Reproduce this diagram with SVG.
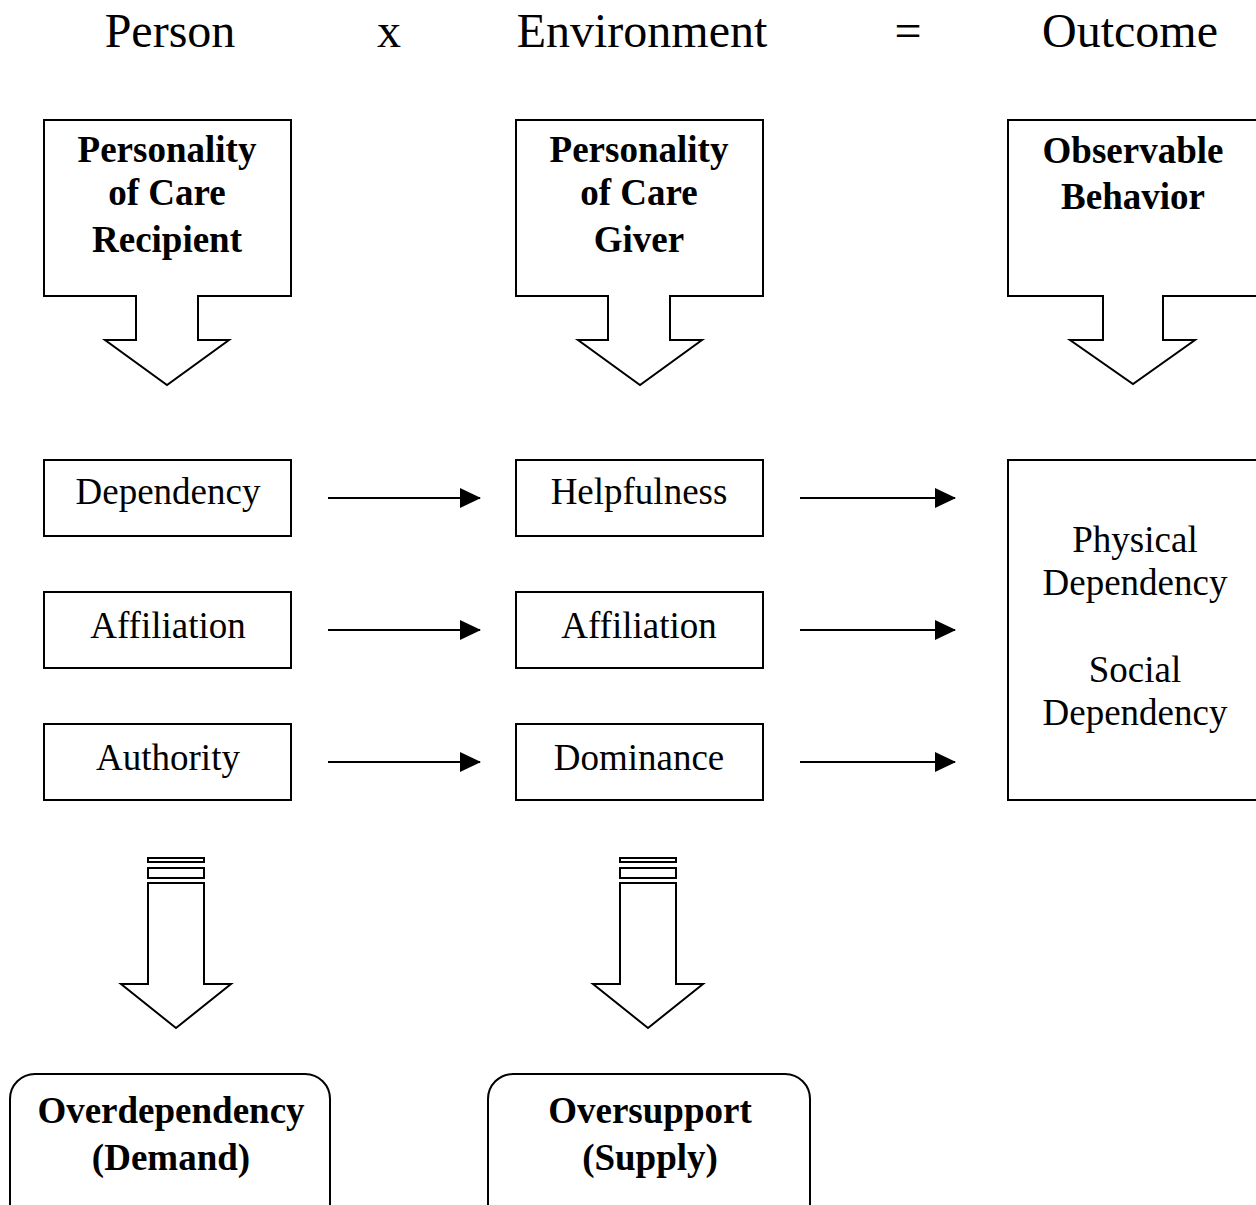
<svg xmlns="http://www.w3.org/2000/svg" width="1256" height="1205" viewBox="0 0 1256 1205">
<style>
.s{fill:#fff;stroke:#000;stroke-width:2}
.t{font-family:"Liberation Serif","Times New Roman",serif;fill:#000;text-anchor:middle}
.h{font-size:48px}
.b{font-size:37px;font-weight:bold}
.r{font-size:37px}
.c{stroke:#000;stroke-width:2;fill:none}
</style>
<defs>
<marker id="ah" markerWidth="22" markerHeight="20" refX="20" refY="10" orient="auto" markerUnits="userSpaceOnUse">
<path d="M0,0 L21,10 L0,20 Z" fill="#000"/>
</marker>
</defs>
<rect width="1256" height="1205" fill="#fff"/>
<g id="header">
<text class="t h" x="170" y="47">Person</text>
<text class="t h" x="389" y="47">x</text>
<text class="t h" x="642" y="47">Environment</text>
<text class="t h" x="908" y="47">=</text>
<text class="t h" x="1130" y="47">Outcome</text>
</g>
<g id="recipient">
<path class="s" d="M44,120 H291 V296 H198 V340 H229 L167,385 L105,340 H136 V296 H44 Z"/>
<text class="t b" x="167" y="162">Personality</text>
<text class="t b" x="167" y="205">of Care</text>
<text class="t b" x="167" y="252">Recipient</text>
</g>
<g id="giver">
<path class="s" d="M516,120 H763 V296 H670 V340 H702 L640,385 L578,340 H608 V296 H516 Z"/>
<text class="t b" x="639" y="162">Personality</text>
<text class="t b" x="639" y="205">of Care</text>
<text class="t b" x="639" y="252">Giver</text>
</g>
<g id="behavior">
<path class="s" d="M1008,120 H1258 V296 H1163 V340 H1195 L1133,384 L1070,340 H1103 V296 H1008 Z"/>
<text class="t b" x="1133" y="163">Observable</text>
<text class="t b" x="1133" y="209">Behavior</text>
</g>
<g id="dependency">
<rect class="s" x="44" y="460" width="247" height="76"/>
<text class="t r" x="168" y="504">Dependency</text>
</g>
<g id="affiliation1">
<rect class="s" x="44" y="592" width="247" height="76"/>
<text class="t r" x="168" y="638">Affiliation</text>
</g>
<g id="authority">
<rect class="s" x="44" y="724" width="247" height="76"/>
<text class="t r" x="168" y="770">Authority</text>
</g>
<g id="helpfulness">
<rect class="s" x="516" y="460" width="247" height="76"/>
<text class="t r" x="639" y="504">Helpfulness</text>
</g>
<g id="affiliation2">
<rect class="s" x="516" y="592" width="247" height="76"/>
<text class="t r" x="639" y="638">Affiliation</text>
</g>
<g id="dominance">
<rect class="s" x="516" y="724" width="247" height="76"/>
<text class="t r" x="639" y="770">Dominance</text>
</g>
<g id="outcome">
<rect class="s" x="1008" y="460" width="250" height="340"/>
<text class="t r" x="1135" y="552">Physical</text>
<text class="t r" x="1135" y="595">Dependency</text>
<text class="t r" x="1135" y="682">Social</text>
<text class="t r" x="1135" y="725">Dependency</text>
</g>
<g id="arrowDown1">
<rect class="s" x="148" y="858" width="56" height="4"/>
<rect class="s" x="148" y="868" width="56" height="10"/>
<path class="s" d="M148,883 H204 V984 H231 L176,1028 L121,984 H148 Z"/>
</g>
<g id="arrowDown2">
<rect class="s" x="620" y="858" width="56" height="4"/>
<rect class="s" x="620" y="868" width="56" height="10"/>
<path class="s" d="M620,883 H676 V984 H703 L648,1028 L593,984 H620 Z"/>
</g>
<g id="overdependency">
<rect class="s" x="10" y="1074" width="320" height="160" rx="25" ry="25"/>
<text class="t b" x="171" y="1123">Overdependency</text>
<text class="t b" x="171" y="1170">(Demand)</text>
</g>
<g id="oversupport">
<rect class="s" x="488" y="1074" width="322" height="160" rx="25" ry="25"/>
<text class="t b" x="650" y="1123">Oversupport</text>
<text class="t b" x="650" y="1170">(Supply)</text>
</g>
<g id="connectors">
<line class="c" x1="328" y1="498" x2="480" y2="498" marker-end="url(#ah)"/>
<line class="c" x1="328" y1="630" x2="480" y2="630" marker-end="url(#ah)"/>
<line class="c" x1="328" y1="762" x2="480" y2="762" marker-end="url(#ah)"/>
<line class="c" x1="800" y1="498" x2="955" y2="498" marker-end="url(#ah)"/>
<line class="c" x1="800" y1="630" x2="955" y2="630" marker-end="url(#ah)"/>
<line class="c" x1="800" y1="762" x2="955" y2="762" marker-end="url(#ah)"/>
</g>
</svg>
